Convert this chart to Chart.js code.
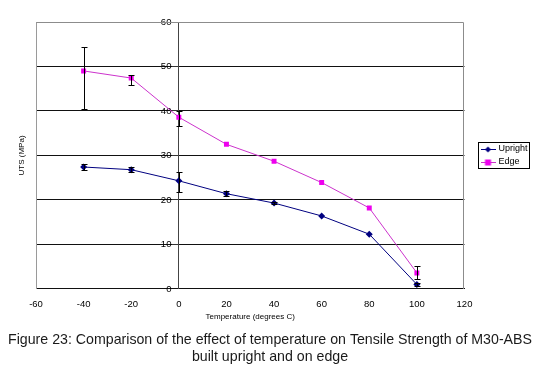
<!DOCTYPE html>
<html><head><meta charset="utf-8">
<script src="https://cdn.jsdelivr.net/npm/chart.js@4/dist/chart.umd.min.js"></script>
<style>html,body{margin:0;padding:0;background:#fff}#wrap{width:540px;height:368px}</style>
</head><body><div id="wrap"><canvas id="c" width="540" height="368"></canvas></div>
<script>
const temperatures = [-40, -20, 0, 20, 40, 60, 80, 100];
const uprightUTS = [27.4, 26.8, 24.3, 21.4, 19.3, 16.4, 12.3, 1.0];
const uprightErrPlus = [0.6, 0.5, 2.0, 0.5, 0.3, 0, 0, 0.4];
const uprightErrMinus = [0.7, 0.5, 2.6, 0.5, 0.3, 0, 0, 0.4];
const edgeUTS = [49.0, 47.4, 38.6, 32.5, 28.7, 23.9, 18.2, 3.6];
const edgeErrPlus = [5.4, 0.6, 1.3, 0, 0, 0, 0, 1.6];
const edgeErrMinus = [8.6, 1.6, 2.0, 0, 0, 0, 0, 1.3];
const seriesNames = ['Upright', 'Edge'];
const xRange = [-60, 120, 20];
const yRange = [0, 60, 10];
const xTitle = 'Temperature (degrees C)';
const yTitle = 'UTS (MPa)';
const caption = ['Figure 23: Comparison of the effect of temperature on Tensile Strength of M30-ABS', 'built upright and on edge'];

const FONT = "'Liberation Sans', Arial, sans-serif";
Chart.defaults.font.family = FONT;
Chart.defaults.color = '#000';

function legendSample(lineColor, pointColor, shape) {
  const c = document.createElement('canvas');
  c.width = 15; c.height = 8;
  const g = c.getContext('2d');
  g.strokeStyle = lineColor; g.lineWidth = 1;
  g.beginPath(); g.moveTo(0, 4.5); g.lineTo(15, 4.5); g.stroke();
  g.fillStyle = pointColor;
  if (shape === 'diamond') {
    g.beginPath(); g.moveTo(7.5, 1.5); g.lineTo(10.5, 4.5); g.lineTo(7.5, 7.5); g.lineTo(4.5, 4.5); g.closePath(); g.fill();
  } else {
    g.fillRect(4.5, 1.5, 6, 6);
  }
  return c;
}
const legendImgs = [legendSample('#000080', '#000080', 'diamond'), legendSample('#cc33cc', '#ee00ee', 'square')];
const errPlus = [uprightErrPlus, edgeErrPlus];
const errMinus = [uprightErrMinus, edgeErrMinus];

const errorBars = {
  id: 'errorBars',
  afterDatasetsDraw(chart) {
    const ctx = chart.ctx, xs = chart.scales.x, ys = chart.scales.y2;
    ctx.save();
    ctx.strokeStyle = '#000'; ctx.lineWidth = 1;
    chart.data.datasets.forEach((ds, i) => {
      ds.data.forEach((p, j) => {
        const ep = errPlus[i][j], em = errMinus[i][j];
        if (!ep && !em) return;
        const x = Math.round(xs.getPixelForValue(p.x)) + 0.5;
        const y1 = Math.round(ys.getPixelForValue(p.y + ep)) + 0.5, y2 = Math.round(ys.getPixelForValue(p.y - em)) + 0.5;
        ctx.beginPath();
        ctx.moveTo(x, y1); ctx.lineTo(x, y2);
        ctx.moveTo(x - 3, y1); ctx.lineTo(x + 3, y1);
        ctx.moveTo(x - 3, y2); ctx.lineTo(x + 3, y2);
        ctx.stroke();
      });
    });
    ctx.restore();
  }
};
const frame = {
  id: 'frame',
  afterLayout(chart) {
    const lg = chart.legend, a = chart.chartArea;
    if (!lg) return;
    const pad = lg.options.labels.padding;
    const dx = 482 - (lg.left + pad);
    const dy = (a.top + a.bottom) / 2 - (lg.top + lg.bottom) / 2;
    lg.left += dx; lg.right += dx; lg.top += dy; lg.bottom += dy;
  },
  beforeDatasetsDraw(chart) {
    const a = chart.chartArea, ctx = chart.ctx;
    ctx.save();
    ctx.strokeStyle = '#8c8c8c'; ctx.lineWidth = 1;
    ctx.beginPath();
    ctx.moveTo(Math.round(a.left) + 0.5, Math.round(a.top) + 0.5);
    ctx.lineTo(Math.round(a.right) - 0.5, Math.round(a.top) + 0.5);
    ctx.lineTo(Math.round(a.right) - 0.5, Math.round(a.bottom));
    ctx.stroke();
    ctx.restore();
  },
  afterDraw(chart) {
    const lg = chart.legend;
    if (!lg) return;
    const cx = lg.left + lg.options.labels.padding;
    const cy = (lg.top + lg.bottom) / 2;
    const ctx = chart.ctx;
    ctx.save(); ctx.strokeStyle = '#000'; ctx.lineWidth = 1;
    ctx.strokeRect(Math.round(cx - 4) + 0.5, Math.round(cy - 13) + 0.5, 51, 26);
    ctx.restore();
  }
};

new Chart(document.getElementById('c'), {
  type: 'line',
  data: {
    datasets: [
      { label: seriesNames[0], data: temperatures.map((t, i) => ({ x: t, y: uprightUTS[i] })),
        borderColor: '#000080', backgroundColor: '#000080', borderWidth: 1,
        pointStyle: 'rectRot', pointRadius: 3.5, pointBorderWidth: 0, yAxisID: 'y2', tension: 0 },
      { label: seriesNames[1], data: temperatures.map((t, i) => ({ x: t, y: edgeUTS[i] })),
        borderColor: '#cc33cc', backgroundColor: '#ee00ee', borderWidth: 1,
        pointStyle: 'rect', pointRadius: 3.5, pointBorderWidth: 0, yAxisID: 'y2', tension: 0 }
    ]
  },
  options: {
    responsive: false, animation: false, devicePixelRatio: 1,
    layout: { padding: { left: 8, right: 8, top: 22, bottom: 2 } },
    scales: {
      x: { type: 'linear', min: xRange[0], max: xRange[1],
        ticks: { stepSize: xRange[2], font: { size: 9.5 }, color: '#000', padding: 2, maxRotation: 0 },
        grid: { display: false }, border: { color: '#111', width: 1 },
        title: { display: true, text: xTitle, font: { size: 8 }, color: '#000', padding: { top: 0, bottom: 0 } } },
      y: { position: 'left', min: yRange[0], max: yRange[1],
        ticks: { display: false }, grid: { display: false, drawTicks: false },
        border: { color: '#9a9a9a', width: 1 },
        title: { display: true, text: yTitle, font: { size: 8 }, color: '#000', padding: { top: 9, bottom: 8 } },
        afterFit(s) { s.width = 28; } },
      yR: { axis: 'y', position: 'right', min: yRange[0], max: yRange[1], display: true,
        ticks: { display: false }, grid: { display: false, drawTicks: false }, border: { display: false },
        title: { display: false },
        afterFit(s) { s.width = 8; } },
      y2: { axis: 'y', position: { x: 0 }, min: yRange[0], max: yRange[1],
        ticks: { stepSize: yRange[2], font: { size: 9.5 }, color: '#000', padding: 1, callback: v => v + '\u2002 ' },
        grid: { color: c => (c.tick && (c.tick.value === 0 || c.tick.value === 60)) ? 'rgba(0,0,0,0)' : '#111', tickLength: 6, tickColor: '#333' },
        border: { color: '#444', width: 1 } }
    },
    plugins: {
      legend: { position: 'right', align: 'center',
        labels: { usePointStyle: true, pointStyleWidth: 12, font: { size: 9 }, color: '#000', padding: 4,
          generateLabels(chart) {
            return chart.data.datasets.map((ds, i) => ({ text: ds.label, pointStyle: legendImgs[i], fillStyle: ds.backgroundColor, strokeStyle: ds.borderColor, lineWidth: 0, datasetIndex: i, hidden: false, fontColor: '#000' }));
          } } },
      title: { display: true, position: 'bottom', text: caption, font: { size: 14.2, weight: 'normal' }, color: '#1a1a1a', lineHeight: 1.15, padding: { top: 10, bottom: 0 } },
      tooltip: { enabled: false }
    }
  },
  plugins: [frame, errorBars]
});
</script>
</body></html>
